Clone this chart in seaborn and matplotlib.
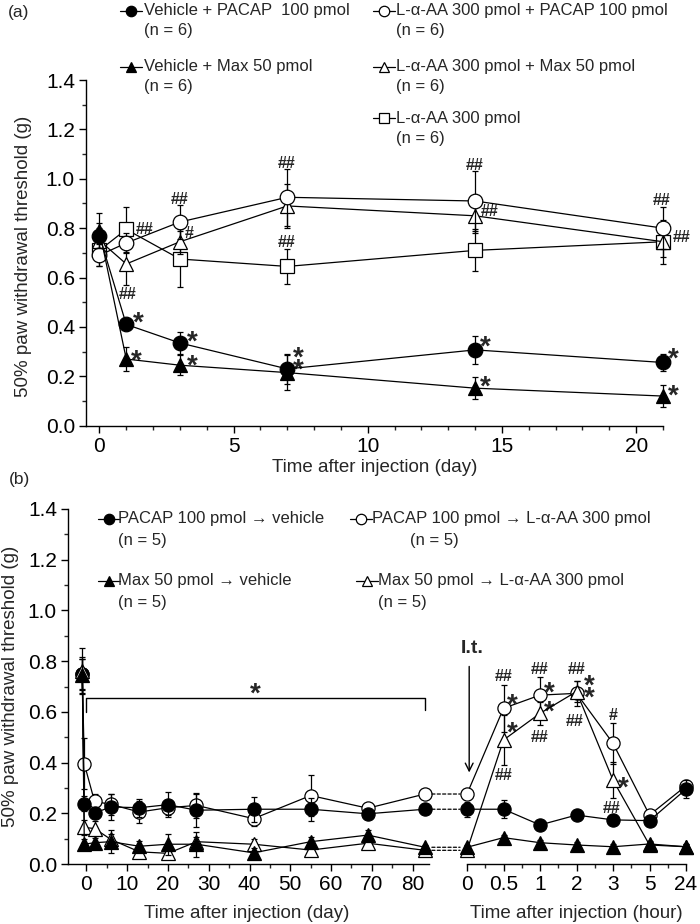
import numpy as np
import matplotlib.pyplot as plt
import seaborn as sns
from matplotlib.lines import Line2D
from matplotlib.patches import ConnectionPatch
from matplotlib.ticker import MultipleLocator, FixedLocator, FormatStrFormatter

sns.set_theme(style='ticks')
plt.rcParams['font.family'] = ['Liberation Sans', 'DejaVu Sans']
plt.rcParams['axes.linewidth'] = 1.0

W, H = 700, 924

# ---------------- panel (a): datos ----------------
dias_a = [0, 1, 3, 7, 14, 21]
veh_pacap = [0.77, 0.41, 0.335, 0.23, 0.307, 0.256]
veh_pacap_sem = [0.05, 0.02, 0.046, 0.06, 0.058, 0.035]
veh_max = [0.79, 0.27, 0.245, 0.215, 0.152, 0.12]
veh_max_sem = [0.07, 0.048, 0.04, 0.07, 0.045, 0.045]
laa_pacap = [0.69, 0.74, 0.825, 0.925, 0.91, 0.80]
laa_pacap_sem = [0.045, 0.04, 0.07, 0.115, 0.12, 0.085]
laa_max = [0.75, 0.655, 0.745, 0.89, 0.85, 0.745]
laa_max_sem = [0.05, 0.085, 0.05, 0.09, 0.07, 0.06]
laa_sola = [0.71, 0.795, 0.675, 0.645, 0.71, 0.745]
laa_sola_sem = [0.065, 0.09, 0.115, 0.07, 0.085, 0.09]

# marcas de significancia (dia, valor, texto)
marcas_a = [
    (1.68, 0.80, '##'), (1.06, 0.537, '##'), (1.46, 0.45, '*'), (1.37, 0.296, '*'),
    (2.98, 0.923, '##'), (3.35, 0.783, '#'), (3.45, 0.375, '*'), (3.45, 0.276, '*'),
    (6.98, 1.065, '##'), (6.98, 0.747, '##'), (7.41, 0.307, '*'), (7.41, 0.26, '*'),
    (13.98, 1.058, '##'), (14.53, 0.871, '##'), (14.36, 0.352, '*'), (14.36, 0.192, '*'),
    (20.95, 0.919, '##'), (21.7, 0.767, '##'), (21.38, 0.304, '*'), (21.38, 0.156, '*'),
]

# ---------------- panel (b): datos ----------------
dias_b = [-1, -0.5, 2, 6, 13, 20, 27, 41, 55, 69, 83]
horas_b = ['0', '0.5', '1', '2', '3', '5', '24']

pacap_veh_d = [0.748, 0.238, 0.201, 0.225, 0.222, 0.234, 0.212, 0.216, 0.216, 0.198, 0.216]
pacap_veh_d_sem = [0.06, 0.03, 0.02, 0.05, 0.035, 0.05, 0.065, 0.05, 0.045, 0.02, 0.02]
pacap_laa_d = [0.75, 0.395, 0.247, 0.235, 0.205, 0.222, 0.231, 0.179, 0.27, 0.22, 0.276]
pacap_laa_d_sem = [0.06, 0.10, 0.03, 0.04, 0.045, 0.03, 0.05, 0.03, 0.08, 0.02, 0.02]
max_veh_d = [0.745, 0.078, 0.084, 0.088, 0.07, 0.078, 0.078, 0.044, 0.088, 0.114, 0.066]
max_veh_d_sem = [0.07, 0.02, 0.02, 0.045, 0.02, 0.042, 0.05, 0.02, 0.02, 0.02, 0.01]
max_laa_d = [0.76, 0.144, 0.14, 0.097, 0.048, 0.042, 0.088, 0.078, 0.055, 0.082, 0.054]
max_laa_d_sem = [0.09, 0.03, 0.03, 0.02, 0.02, 0.02, 0.02, 0.02, 0.02, 0.02, 0.01]

pacap_veh_h = [0.216, 0.216, 0.154, 0.193, 0.174, 0.171, 0.295]
pacap_veh_h_sem = [0.03, 0.036, 0.01, 0.015, 0.01, 0.01, 0.035]
pacap_laa_h = [0.276, 0.614, 0.666, 0.673, 0.476, 0.193, 0.308]
pacap_laa_h_sem = [0.02, 0.092, 0.07, 0.05, 0.08, 0.01, 0.01]
max_veh_h = [0.066, 0.104, 0.084, 0.075, 0.068, 0.079, 0.068]
max_veh_h_sem = [0.01, 0.012, 0.01, 0.01, 0.01, 0.01, 0.01]
max_laa_h = [0.054, 0.489, 0.594, 0.68, 0.331, 0.075, 0.068]
max_laa_h_sem = [0.01, 0.10, 0.045, 0.04, 0.07, 0.01, 0.01]

marcas_b = [
    (1.0, 0.745, '##'), (1.23, 0.66, '*'), (1.23, 0.552, '*'), (1.0, 0.355, '##'),
    (2.0, 0.772, '##'), (2.25, 0.706, '*'), (2.25, 0.631, '*'), (2.0, 0.505, '##'),
    (3.0, 0.772, '##'), (3.36, 0.736, '*'), (3.36, 0.689, '*'), (2.95, 0.568, '##'),
    (4.0, 0.591, '#'), (4.27, 0.334, '*'), (3.95, 0.224, '##'),
]
corchete_dias = (0, 83)
corchete_y = 0.656


def px(l, t, r, b):
    return [l / W, 1 - b / H, (r - l) / W, (b - t) / H]


def serie(ax, x, y, sem, marker, face, ms, z):
    ax.errorbar(x, y, yerr=sem, fmt='none', ecolor='black', elinewidth=0.9,
                capsize=2.2, capthick=0.9, zorder=z - 0.05, clip_on=False)
    sns.lineplot(x=x, y=y, ax=ax, color='black', linewidth=0.9, marker=marker,
                 markersize=ms, markerfacecolor=face, markeredgecolor='black',
                 markeredgewidth=0.9, zorder=z, clip_on=False, legend=False)


def marcas(ax, lista):
    for x, y, s in lista:
        fs = 20 if s == '*' else 11.5
        k = 0.58 if s == '*' else 0.36
        ax.annotate(s, (x, y), xytext=(0, -k * fs), textcoords='offset points',
                    ha='center', va='baseline', fontsize=fs, fontweight='bold',
                    annotation_clip=False)


def ejes(ax):
    ax.set_ylim(0, 1.4)
    ax.yaxis.set_major_locator(MultipleLocator(0.2))
    ax.yaxis.set_minor_locator(MultipleLocator(0.1))
    ax.yaxis.set_major_formatter(FormatStrFormatter('%.1f'))
    ax.tick_params(which='major', direction='out', length=5, width=1, labelsize=15, pad=3, colors='black')
    ax.tick_params(which='minor', direction='out', length=3, width=1)
    ax.set_facecolor('none')
    for s in ax.spines.values():
        s.set_color('black')


def clave(x0, y, marker, face, ms=7.5):
    yy = 1 - y / H
    fig.add_artist(Line2D([x0 / W, (x0 + 22) / W], [yy, yy], transform=fig.transFigure,
                          color='black', lw=0.9))
    fig.add_artist(Line2D([(x0 + 11) / W], [yy], transform=fig.transFigure, marker=marker,
                          ms=ms, mfc=face, mec='black', mew=0.9, ls='none'))


def texto(x, y, s, **kw):
    kw.setdefault('fontsize', 12)
    kw.setdefault('va', 'center')
    fig.text(x / W, 1 - y / H, s, **kw)


fig = plt.figure(figsize=(7, 9.24), dpi=100)
fig.patch.set_facecolor('white')

# ---------------- panel (a) ----------------
ax_a = fig.add_axes(px(86, 80, 663, 425.7))
serie(ax_a, dias_a, laa_sola, laa_sola_sem, 's', 'white', 9.5, 3.0)
serie(ax_a, dias_a, laa_max, laa_max_sem, '^', 'white', 10.5, 3.1)
serie(ax_a, dias_a, laa_pacap, laa_pacap_sem, 'o', 'white', 10.5, 3.2)
serie(ax_a, dias_a, veh_pacap, veh_pacap_sem, 'o', 'black', 10.5, 3.3)
serie(ax_a, dias_a, veh_max, veh_max_sem, '^', 'black', 10.5, 3.4)
marcas(ax_a, marcas_a)
ejes(ax_a)
ax_a.set_xlim(-0.5, 21.0)
ax_a.xaxis.set_major_locator(MultipleLocator(5))
ax_a.xaxis.set_minor_locator(MultipleLocator(1))
sns.despine(ax=ax_a)

texto(8, 12, '(a)', fontsize=12.5)
clave(120, 11, 'o', 'black')
texto(144, 11, 'Vehicle + PACAP  100 pmol')
texto(144, 30, '(n = 6)')
clave(120, 67, '^', 'black')
texto(144, 67, 'Vehicle + Max 50 pmol')
texto(144, 86, '(n = 6)')
clave(373, 11, 'o', 'white')
texto(396, 11, 'L-α-AA 300 pmol + PACAP 100 pmol')
texto(396, 30, '(n = 6)')
clave(373, 67, '^', 'white')
texto(396, 67, 'L-α-AA 300 pmol + Max 50 pmol')
texto(396, 86, '(n = 6)')
clave(373, 118, 's', 'white', ms=7)
texto(396, 118, 'L-α-AA 300 pmol')
texto(396, 138, '(n = 6)')

texto(375, 468, 'Time after injection (day)', fontsize=13.5, ha='center')
texto(24, 256, '50% paw withdrawal threshold (g)', fontsize=13.5, ha='center', rotation=90)

# ---------------- panel (b) ----------------
ax_d = fig.add_axes(px(68, 509, 429, 864))
ax_h = fig.add_axes(px(467, 509, 686, 864), sharey=ax_d)
pos_h = np.arange(len(horas_b))

serie(ax_d, dias_b, pacap_laa_d, pacap_laa_d_sem, 'o', 'white', 9.5, 3.0)
serie(ax_d, dias_b, pacap_veh_d, pacap_veh_d_sem, 'o', 'black', 9.5, 3.1)
serie(ax_d, dias_b, max_laa_d, max_laa_d_sem, '^', 'white', 9.5, 3.2)
serie(ax_d, dias_b, max_veh_d, max_veh_d_sem, '^', 'black', 9.5, 3.3)

serie(ax_h, pos_h, pacap_laa_h, pacap_laa_h_sem, 'o', 'white', 9.5, 3.0)
serie(ax_h, pos_h, pacap_veh_h, pacap_veh_h_sem, 'o', 'black', 9.5, 3.1)
serie(ax_h, pos_h, max_laa_h, max_laa_h_sem, '^', 'white', 9.5, 3.2)
serie(ax_h, pos_h, max_veh_h, max_veh_h_sem, '^', 'black', 9.5, 3.3)
marcas(ax_h, marcas_b)

# conectores discontinuos entre dia 83 y hora 0
for dd, hh in [(pacap_laa_d, pacap_laa_h), (pacap_veh_d, pacap_veh_h),
               (max_laa_d, max_laa_h), (max_veh_d, max_veh_h)]:
    con = ConnectionPatch(xyA=(dias_b[-1], dd[-1]), coordsA=ax_d.transData,
                          xyB=(pos_h[0], hh[0]), coordsB=ax_h.transData,
                          color='black', lw=0.9, linestyle=(0, (2.5, 1.8)),
                          shrinkA=5, shrinkB=5)
    fig.add_artist(con)

# corchete con asterisco
c0, c1 = corchete_dias
ax_d.plot([c0, c0, c1, c1], [corchete_y - 0.056, corchete_y, corchete_y, corchete_y - 0.05],
          color='black', lw=1.0)
ax_d.annotate('*', ((c0 + c1) / 2, corchete_y + 0.046), xytext=(0, -0.58 * 20),
              textcoords='offset points', ha='center', va='baseline', fontsize=20,
              fontweight='bold')

# flecha I.t.
ax_h.annotate('', xy=(0.06, 0.35), xytext=(0.06, 0.79),
              arrowprops=dict(arrowstyle='->', color='black', lw=1.0, mutation_scale=14))
ax_h.text(0.14, 0.85, 'I.t.', ha='center', va='center', fontsize=14, fontweight='bold')

ejes(ax_d)
ax_d.set_xlim(-4.5, 84)
ax_d.xaxis.set_major_locator(MultipleLocator(10))
ax_d.xaxis.set_minor_locator(MultipleLocator(5))
sns.despine(ax=ax_d)

ejes(ax_h)
ax_h.set_xlim(0, 6)
ax_h.xaxis.set_major_locator(FixedLocator(pos_h))
ax_h.set_xticklabels(horas_b)
ax_h.xaxis.set_minor_locator(MultipleLocator(0.5))
sns.despine(ax=ax_h, left=True)
ax_h.tick_params(axis='y', which='both', left=False, labelleft=False)

texto(9, 480, '(b)', fontsize=12.5)
clave(98, 519, 'o', 'black')
texto(118, 519, 'PACAP 100 pmol → vehicle')
texto(118, 541, '(n = 5)')
clave(98, 581, '^', 'black')
texto(118, 581, 'Max 50 pmol → vehicle')
texto(118, 602, '(n = 5)')
clave(350, 519, 'o', 'white')
texto(372, 519, 'PACAP 100 pmol → L-α-AA 300 pmol')
texto(410, 541, '(n = 5)')
clave(356, 581, '^', 'white')
texto(378, 581, 'Max 50 pmol → L-α-AA 300 pmol')
texto(378, 602, '(n = 5)')

texto(247, 913, 'Time after injection (day)', fontsize=13.5, ha='center')
texto(576, 913, 'Time after injection (hour)', fontsize=13.5, ha='center')
texto(11, 686, '50% paw withdrawal threshold (g)', fontsize=13.5, ha='center', rotation=90)

fig.savefig('out.png', dpi=100)
